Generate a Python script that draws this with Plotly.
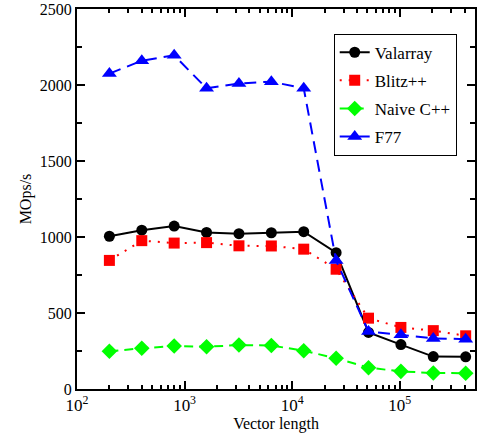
import plotly.graph_objects as go

vector_length = [200, 400, 800, 1600, 3200, 6400, 12800, 25600, 51200, 102400, 204800, 409600]
valarray = [1005, 1045, 1072, 1030, 1022, 1028, 1035, 897, 372, 292, 213, 212]
blitz = [846, 976, 960, 963, 942, 941, 920, 788, 466, 405, 384, 350]
naive = [248, 268, 283, 278, 289, 286, 252, 202, 140, 116, 105, 104]
f77 = [2075, 2160, 2195, 1978, 2010, 2022, 1978, 845, 378, 357, 333, 328]

x_tick_vals = [100, 1000, 10000, 100000]
x_tick_text = ["10<sup>2</sup>", "10<sup>3</sup>", "10<sup>4</sup>", "10<sup>5</sup>"]
x_minor_vals = [m * 10 ** e for e in range(2, 6) for m in range(2, 10) if m * 10 ** e <= 500000]

FONT = "Liberation Serif"

fig = go.Figure()
fig.add_trace(go.Scatter(x=vector_length, y=valarray, name="Valarray", legendgroup="a",
                         mode="lines+markers",
                         line=dict(color="black", width=2),
                         marker=dict(symbol="circle", size=11, color="black")))
fig.add_trace(go.Scatter(x=vector_length, y=blitz, name="Blitz++", legendgroup="b",
                         mode="lines+markers",
                         line=dict(color="#ff0000", width=2, dash="2px,7px"),
                         marker=dict(symbol="square", size=11, color="#ff0000")))
fig.add_trace(go.Scatter(x=vector_length, y=naive, name="Naive C++", legendgroup="c",
                         mode="lines+markers",
                         line=dict(color="#00ff00", width=2, dash="9px,6px"),
                         marker=dict(symbol="diamond", size=12, color="#00ff00")))
fig.add_trace(go.Scatter(x=vector_length, y=f77, name="F77", legendgroup="d",
                         mode="lines+markers",
                         line=dict(color="#0000ff", width=2, dash="12px,7px"),
                         marker=dict(symbol="triangle-up", size=13, color="#0000ff")))

fig.update_layout(
    width=478, height=436,
    margin=dict(l=77, r=1, t=9, b=47),
    plot_bgcolor="white", paper_bgcolor="white",
    font=dict(family=FONT, size=16, color="black"),
    showlegend=True,
    legend=dict(x=0.645, y=0.935, xanchor="left", yanchor="top",
                bordercolor="black", borderwidth=1, bgcolor="white",
                tracegroupgap=3, font=dict(size=17, family=FONT)),
    xaxis=dict(type="log", range=[2, 5.699], showgrid=False, zeroline=False,
               showline=True, linecolor="black", linewidth=2, mirror="ticks",
               ticks="inside", ticklen=8, tickwidth=2, tickcolor="black",
               tickvals=x_tick_vals, ticktext=x_tick_text,
               tickfont=dict(family=FONT, size=17),
               minor=dict(tickvals=x_minor_vals, ticks="inside", ticklen=4,
                          tickwidth=1.5, tickcolor="black", showgrid=False),
               title=dict(text="Vector length", standoff=2, font=dict(size=16, family=FONT))),
    yaxis=dict(range=[0, 2500], showgrid=False, zeroline=False,
               showline=True, linecolor="black", linewidth=2, mirror="ticks",
               ticks="inside", ticklen=8, tickwidth=2, tickcolor="black",
               tickvals=[0, 500, 1000, 1500, 2000, 2500],
               tickfont=dict(family=FONT, size=16),
               minor=dict(dtick=250, ticks="inside", ticklen=5,
                          tickwidth=1.5, tickcolor="black", showgrid=False),
               title=dict(text="MOps/s", standoff=4, font=dict(size=16, family=FONT))),
)

fig.write_html("out.html")
